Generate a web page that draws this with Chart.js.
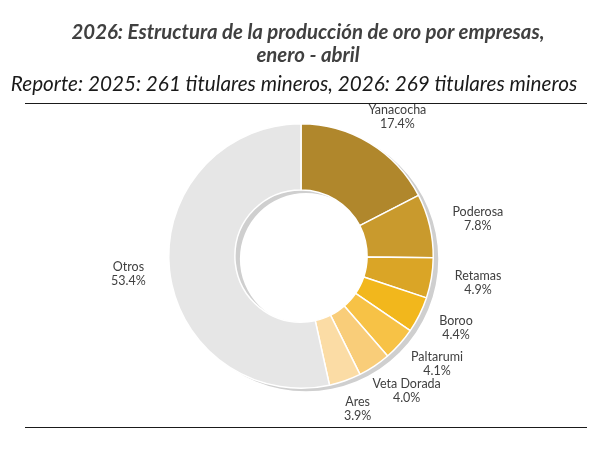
<!DOCTYPE html>
<html>
<head>
<meta charset="utf-8">
<script src="https://cdn.jsdelivr.net/npm/chart.js@4"></script>
<style>
  html, body { margin: 0; padding: 0; background: #fff; }
  #wrap { position: relative; width: 595px; height: 459px; overflow: hidden; }
  #chartCanvas { position: absolute; left: 0; top: 0; }
  .ttl { position: absolute; white-space: nowrap; font-family: Lato, "Open Sans", sans-serif; font-style: italic; line-height: 24px; }
  #title1 { top: 19px; left: 308px; transform: translateX(-50%); font-size: 20.4px; font-weight: bold; color: #404040; }
  #title2 { top: 42px; left: 308px; transform: translateX(-50%); font-size: 20.4px; font-weight: bold; color: #404040; }
  #subtitle { top: 71px; left: 294px; transform: translateX(-50%); font-size: 20.7px; color: #1a1a1a; }
  .rule { position: absolute; left: 25px; width: 562px; height: 0; border-top: 1.5px solid #1a1a1a; }
</style>
</head>
<body>
<div id="wrap">
  <canvas id="chartCanvas" width="595" height="459"></canvas>
  <div class="ttl" id="title1">2026: Estructura de la producción de oro por empresas,</div>
  <div class="ttl" id="title2">enero - abril</div>
  <div class="ttl" id="subtitle">Reporte: 2025: 261 titulares mineros, 2026: 269 titulares mineros</div>
  <div class="rule" style="top: 103px;"></div>
  <div class="rule" style="top: 427px;"></div>
</div>
<script>
// data
const companies = ["Yanacocha", "Poderosa", "Retamas", "Boroo", "Paltarumi", "Veta Dorada", "Ares", "Otros"];
const shares = [17.4, 7.8, 4.9, 4.4, 4.1, 4.0, 3.9, 53.4];
const sliceColors = ["#b0872c", "#c99a2d", "#daa526", "#f2b71c", "#f7c246", "#f9cd79", "#fbdca5", "#e6e6e6"];

// grey ring behind the doughnut, shifted a bit (shadow look)
const ringShadow = {
  id: "ringShadow",
  beforeDatasetsDraw(chart) {
    const arc = chart.getDatasetMeta(0).data[0];
    if (!arc) return;
    const c = chart.ctx;
    c.save();
    c.fillStyle = "#cfcfcf";
    c.beginPath();
    c.arc(arc.x + 5, arc.y + 3, arc.outerRadius, 0, Math.PI * 2);
    c.arc(arc.x + 5, arc.y + 3, arc.innerRadius, 0, Math.PI * 2, true);
    c.fill();
    c.restore();
  }
};

// labels outside each slice: name + percent
const outsideLabels = {
  id: "outsideLabels",
  afterDatasetsDraw(chart) {
    const c = chart.ctx;
    const meta = chart.getDatasetMeta(0);
    c.save();
    c.font = "12.5px Lato, 'Open Sans', sans-serif";
    c.fillStyle = "#404040";
    c.textAlign = "center";
    c.textBaseline = "middle";
    meta.data.forEach((arc, i) => {
      const mid = (arc.startAngle + arc.endAngle) / 2;
      const name = companies[i];
      const pct = shares[i].toFixed(1) + "%";
      const hw = Math.max(c.measureText(name).width, c.measureText(pct).width) / 2;
      const x = arc.x + (arc.outerRadius + 24 + hw) * Math.cos(mid);
      const y = arc.y + (arc.outerRadius + 30) * Math.sin(mid);
      c.fillText(name, x, y - 7);
      c.fillText(pct, x, y + 7);
    });
    c.restore();
  }
};

const ctx = document.getElementById("chartCanvas").getContext("2d");
const myDoughnutChart = new Chart(ctx, {
  type: "doughnut",
  data: {
    labels: companies,
    datasets: [
      {
        data: shares,
        backgroundColor: sliceColors,
        borderColor: "#ffffff",
        borderWidth: 1.5,
      },
    ],
  },
  options: {
    responsive: false,
    animation: false,
    cutout: "50%",
    layout: {
      padding: { top: 123, bottom: 70, left: 107, right: 100 },
    },
    plugins: {
      legend: { display: false },
      tooltip: { enabled: false },
    },
  },
  plugins: [ringShadow, outsideLabels],
});
</script>
</body>
</html>
